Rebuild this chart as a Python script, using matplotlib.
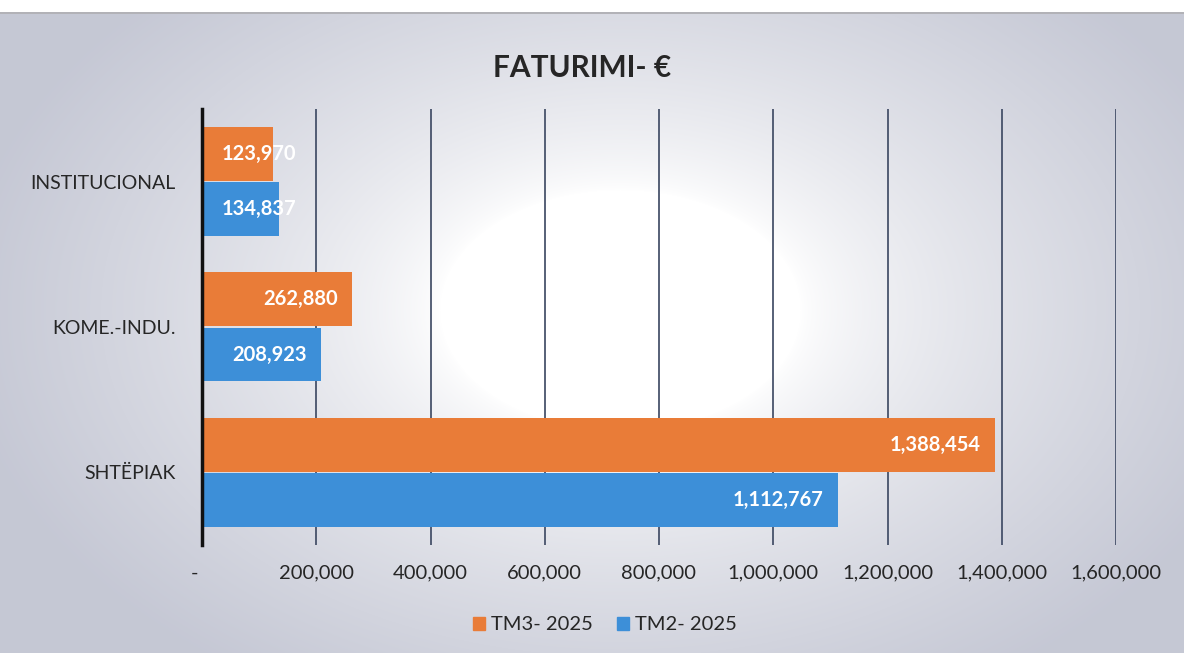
import numpy as np
import matplotlib
matplotlib.use("Agg")
import matplotlib.pyplot as plt
from matplotlib.patches import Patch
from matplotlib.ticker import FuncFormatter
import matplotlib.transforms as mtransforms

categories = ["INSTITUCIONAL", "KOME.-INDU.", "SHTËPIAK"]
tm3_2025 = [123970, 262880, 1388454]
tm2_2025 = [134837, 208923, 1112767]
series_names = ["TM3- 2025", "TM2- 2025"]
xticks = [0, 200000, 400000, 600000, 800000, 1000000, 1200000, 1400000, 1600000]

ORANGE = "#E97C38"
BLUE = "#3D8FD8"
TEXT = "#262626"

plt.rcParams["font.family"] = ["Lato", "DejaVu Sans"]

W, H = 1184, 653
fig = plt.figure(figsize=(W / 100, H / 100), dpi=100)

# background: radial gradient scan look
bg = fig.add_axes([0, 0, 1, 1], zorder=-10)
yy, xx = np.mgrid[0:H, 0:W]
d = np.sqrt(((xx - 620) / 600.0) ** 2 + ((yy - 310) / 400.0) ** 2)
t = np.clip((d - 0.3) / 0.8, 0, 1) ** 0.7
c0 = np.array([1.0, 1.0, 1.0])
c1 = np.array([0.775, 0.785, 0.835])
img = c0[None, None, :] * (1 - t[..., None]) + c1[None, None, :] * t[..., None]
img[:12, :, :] = 1.0
img[12:14, :, :] = np.array([0.7, 0.7, 0.72])
bg.imshow(img, extent=[0, W, H, 0], aspect="auto", interpolation="bilinear")
bg.set_xlim(0, W)
bg.set_ylim(H, 0)
bg.axis("off")

ax = fig.add_axes([202 / W, 1 - 545 / H, (1116 - 202) / W, (545 - 109) / H])
ax.patch.set_alpha(0)

y = np.arange(len(categories))
h = 0.37
b1 = ax.barh(y - h / 2 - 0.005, tm3_2025, height=h, color=ORANGE, zorder=3)
b2 = ax.barh(y + h / 2 + 0.005, tm2_2025, height=h, color=BLUE, zorder=3)

ax.set_xlim(0, 1600000)
ax.set_ylim(2.5, -0.5)
ax.set_xticks(xticks)
ax.xaxis.set_major_formatter(FuncFormatter(lambda v, p: "-" if v == 0 else f"{int(v):,}"))
ax.set_yticks(y)
ax.set_yticklabels(categories)
ax.tick_params(axis="both", length=0, colors=TEXT)
ax.tick_params(axis="x", pad=14, labelsize=14.5)
ax.tick_params(axis="y", pad=19, labelsize=14)
first = ax.get_xticklabels()[0]
first.set_transform(first.get_transform() + mtransforms.ScaledTranslation(-0.07, 0, fig.dpi_scale_trans))
ax.grid(axis="x", color="#3a4660", linewidth=1.2, zorder=0)
for s in ["top", "right", "bottom"]:
    ax.spines[s].set_visible(False)
ax.spines["left"].set_color("#111111")
ax.spines["left"].set_linewidth(2.5)
ax.spines["left"].set_zorder(5)

pix_per_unit = (1116 - 202) / 1600000.0
for bars, vals in [(b1, tm3_2025), (b2, tm2_2025)]:
    for bar, v in zip(bars, vals):
        yc = bar.get_y() + bar.get_height() / 2
        if v * pix_per_unit < 110:
            off = mtransforms.offset_copy(ax.transData, fig=fig, x=20, y=0, units="dots")
            ax.text(0, yc, f"{v:,}", transform=off, ha="left", va="center",
                    color="white", fontsize=14.5, fontweight="bold", zorder=6)
        else:
            off = mtransforms.offset_copy(ax.transData, fig=fig, x=-14, y=0, units="dots")
            ax.text(v, yc, f"{v:,}", transform=off, ha="right", va="center",
                    color="white", fontsize=14.5, fontweight="bold", zorder=6)

fig.text(582 / W, 1 - 68 / H, "FATURIMI- €", ha="center", va="center",
         fontsize=21.5, fontweight="bold", color=TEXT)

handles = [Patch(color=ORANGE), Patch(color=BLUE)]
fig.legend(handles, series_names, loc="center", bbox_to_anchor=(605 / W, 1 - 625 / H),
           ncol=2, frameon=False, fontsize=14.5, handlelength=0.6, handleheight=0.6,
           handletextpad=0.3, columnspacing=1.2, labelcolor=TEXT)

fig.savefig("out.png", dpi=100)
